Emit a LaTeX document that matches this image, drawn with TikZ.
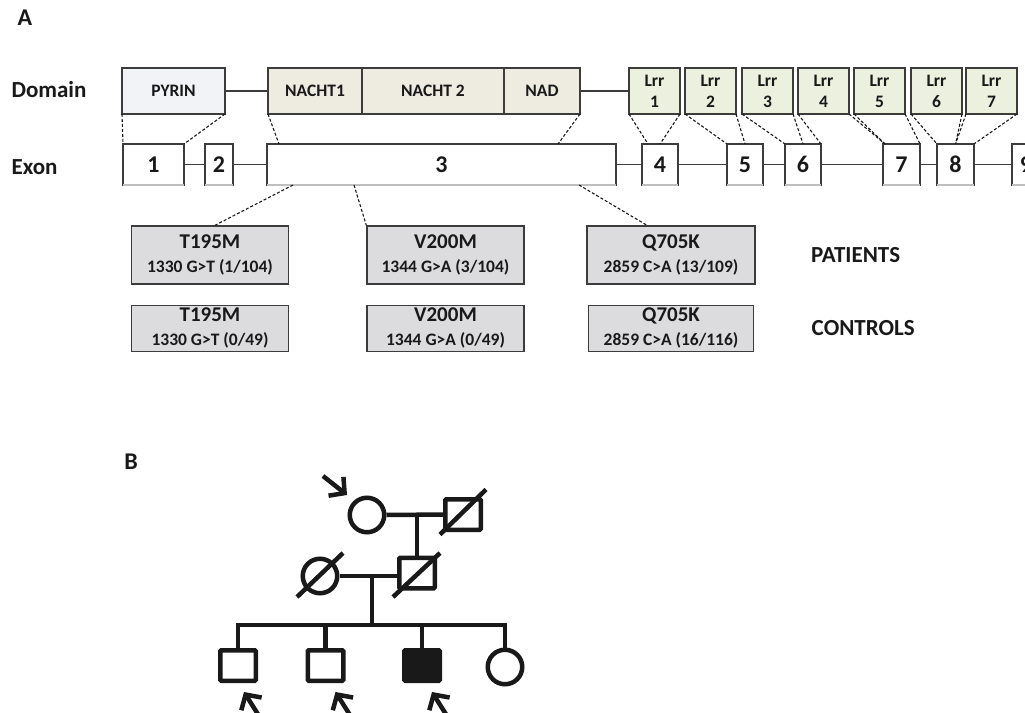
\documentclass[tikz,border=0pt]{standalone}
\usepackage{fontspec}
\setmainfont{Carlito}
\usetikzlibrary{shapes, arrows.meta, positioning, calc}
\definecolor{boxline}{RGB}{60,60,60}
\definecolor{pyrinfill}{RGB}{241,243,246}
\definecolor{nachtfill}{RGB}{238,236,225}
\definecolor{lrrfill}{RGB}{235,241,222}
\definecolor{mutfill}{RGB}{220,220,223}

\begin{document}
\begin{tikzpicture}[
      x=1pt, y=-1pt,
      dombox/.style={rectangle, draw=boxline, line width=1.4pt, outer sep=0pt,
        minimum height=46pt, inner sep=0pt, text=black!90,
        font=\bfseries\fontsize{17.5}{21}\selectfont, text centered},
      lrr/.style={dombox, fill=lrrfill, minimum width=51pt, align=center},
      exon/.style={rectangle, draw=boxline, line width=1.4pt, outer sep=0pt, fill=white,
        minimum height=41pt, inner sep=0pt, text=black!90,
        font=\bfseries\fontsize{24}{28}\selectfont},
      mutbox/.style={rectangle, draw=boxline, line width=1.4pt, fill=mutfill,
        minimum width=157pt, inner sep=0pt, align=center, text=black!90,
        font=\bfseries\fontsize{17.5}{24}\selectfont},
      rowlabel/.style={anchor=west, text=black!90, font=\bfseries\fontsize{23}{27}\selectfont},
      panel/.style={text=black!90, font=\bfseries\fontsize{24}{28}\selectfont},
      link/.style={draw=boxline, line width=1.4pt},
      dashlink/.style={draw=black!90, line width=1.1pt, dash pattern=on 3pt off 2pt},
      male/.style={rectangle, draw=black!90, line width=4.5pt, rounded corners=1pt,
        minimum width=35.5pt, minimum height=30.5pt, inner sep=0pt},
      female/.style={circle, draw=black!90, line width=4.5pt, minimum size=34.5pt, inner sep=0pt},
      affected/.style={male, fill=black!90},
      pedline/.style={draw=black!90, line width=4.5pt},
      proband/.style={pedline, -{Straight Barb[length=11pt, width=24pt]}}
    ]
      \useasboundingbox (0,0) rectangle (1025,712);
      \clip (0,0) rectangle (1025,712);

      % Panel labels
      \node[panel] (lblA) at (25,18) {A};
      \node[panel] (lblB) at (131,462) {B};

      % Row labels
      \node[rowlabel] (domainlbl) at (8,90) {Domain};
      \node[rowlabel] (exonlbl) at (8,167) {Exon};

      % Domains
      \node[dombox, fill=pyrinfill, minimum width=103pt] (pyrin) at (173.5,91) {PYRIN};
      \node[dombox, fill=nachtfill, minimum width=94pt] (nacht1) at (315,91) {NACHT1};
      \node[dombox, fill=nachtfill, minimum width=142pt, right=0pt of nacht1] (nacht2) {NACHT 2};
      \node[dombox, fill=nachtfill, minimum width=76pt, right=0pt of nacht2] (nad) {NAD};
      \foreach \i/\x in {1/654.5, 2/710.5, 3/767.5, 4/823.5, 5/879.5, 6/936.5, 7/991.5}
        \node[lrr] (l\i) at (\x,91) {Lrr\\\i};

      \draw[link] (pyrin) -- (nacht1);
      \draw[link] (nad) -- (l1);

      % Exons
      \foreach \n/\x/\w in {1/153.5/61, 2/219/28, 3/441.5/349, 4/660/36, 5/745/36,
          6/803/36, 7/901.5/37, 8/955.5/37, 9/1026/28}
        \node[exon, minimum width=\w pt] (e\n) at (\x,164.5) {\n};
      \foreach \a/\b in {1/2, 2/3, 3/4, 4/5, 5/6, 6/7, 7/8, 8/9}
        \draw[link] (e\a) -- (e\b);
      \foreach \n in {1,...,9}
        \draw[line width=1.4pt, black!25] (e\n.south west) -- (e\n.south east);

      % Domain to exon mapping
      \draw[dashlink] (pyrin.south west) -- (e1.north west);
      \draw[dashlink] (pyrin.south east) -- (e1.north east);
      \draw[dashlink] (nacht1.south west) -- ($(e3.north west)+(12,0)$);
      \draw[dashlink] (nad.south east) -- ($(e3.north east)+(-58,0)$);
      \draw[dashlink] (l1.south west) -- ($(e4.north west)+(6,0)$);
      \draw[dashlink] (l1.south east) -- (e4.north);
      \draw[dashlink] (l2.south west) -- (e5.north west);
      \draw[dashlink] (l2.south east) -- (e5.north);
      \draw[dashlink] (l3.south west) -- (e6.north west);
      \draw[dashlink] (l3.south east) -- (e6.north);
      \draw[dashlink] (l4.south west) -- (e6.north east);
      \draw[dashlink] (l4.south east) -- ($(e7.north west)+(2,0)$);
      \draw[dashlink] (l5.south west) -- ($(e7.north west)+(2,0)$);
      \draw[dashlink] (l5.south east) -- (e7.north east);
      \draw[dashlink] (l6.south west) -- (e8.north west);
      \draw[dashlink] (l6.south east) -- (e8.north);
      \draw[dashlink] (l7.south west) -- (e8.north);
      \draw[dashlink] (l7.south east) -- (e8.north east);

      % Variants
      \node[mutbox, minimum height=58pt] (p1) at (210,255)
        {{\fontsize{21}{24}\selectfont T195M}\\1330 G>T (1/104)};
      \node[mutbox, minimum height=58pt] (p2) at (445.5,255)
        {{\fontsize{21}{24}\selectfont V200M}\\1344 G>A (3/104)};
      \node[mutbox, minimum height=58pt, minimum width=168pt] (p3) at (671,255)
        {{\fontsize{21}{24}\selectfont Q705K}\\2859 C>A (13/109)};
      \node[mutbox, minimum height=46pt, below=20pt of p1] (c1box)
        {{\fontsize{21}{24}\selectfont T195M}\\1330 G>T (0/49)};
      \node[mutbox, minimum height=46pt, below=20pt of p2] (c2box)
        {{\fontsize{21}{24}\selectfont V200M}\\1344 G>A (0/49)};
      \node[mutbox, minimum height=46pt, minimum width=165pt, below=20pt of p3] (c3box)
        {{\fontsize{21}{24}\selectfont Q705K}\\2859 C>A (16/116)};
      \node[rowlabel, right=52pt of p3] (patients) {PATIENTS};
      \node[rowlabel, right=54pt of c3box] (controls) {CONTROLS};

      \draw[dashlink] ($(e3.south west)+(26,0)$) -- ($(p1.north)+(5,0)$);
      \draw[dashlink] ($(e3.south west)+(87,0)$) -- (p2.north west);
      \draw[dashlink] ($(e3.south east)+(-37,0)$) -- ($(p3.north)+(-24,0)$);

      % Pedigree
      \node[female] (gm) at (367,515) {};
      \node[male] (gf) at (463,514.5) {};
      \node[male] (fa) at (417,573) {};
      \node[female] (mo) at (320,576) {};
      \node[male] (k1) at (238,665.5) {};
      \node[male] (k2) at (325.5,665.5) {};
      \node[affected] (k3) at (422,665.5) {};
      \node[female] (k4) at (505,667) {};
      \coordinate (sib) at (372,625);

      \draw[pedline] (gm) -- (gf);
      \draw[pedline] (fa |- gm) -- (fa.north);
      \draw[pedline] (mo.east) -- (mo.east -| fa.west);
      \draw[pedline] (mo.east -| sib) -- (sib);
      \draw[pedline] (k1.north) -- (k1 |- sib) -- (k4 |- sib) -- (k4.north);
      \draw[pedline] (k2 |- sib) -- (k2.north);
      \draw[pedline] (k3 |- sib) -- (k3.north);

      % Deceased
      \draw[pedline] ($(gf.center)+(-23,20)$) -- ($(gf.center)+(23,-25)$);
      \draw[pedline] ($(fa.center)+(-24,24)$) -- ($(fa.center)+(23,-20)$);
      \draw[pedline] ($(mo.center)+(-23,21)$) -- ($(mo.center)+(23,-23)$);

      % Probands
      \draw[proband] ($(gm.center)+(-44,-39)$) -- ($(gm.center)+(-20,-20)$);
      \draw[proband] ($(k1.center)+(22,52)$) -- ($(k1.center)+(6,26.5)$);
      \draw[proband] ($(k2.center)+(26,52)$) -- ($(k2.center)+(10,26.5)$);
      \draw[proband] ($(k3.center)+(26,52)$) -- ($(k3.center)+(10,26.5)$);
    \end{tikzpicture}
\end{document}
